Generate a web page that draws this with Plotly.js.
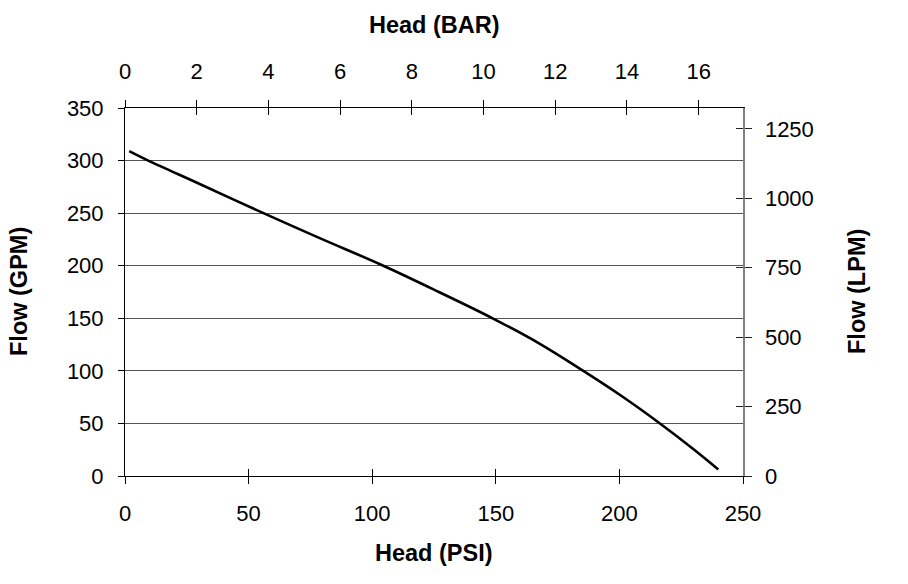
<!DOCTYPE html>
<html>
<head>
<meta charset="utf-8">
<script src="https://cdn.plot.ly/plotly-3.0.1.min.js"></script>
<style>html,body{margin:0;padding:0;background:#fff;}#chart{width:908px;height:584px;}</style>
</head>
<body>
<div id="chart"></div>
<script>
// Data
var headPsi = [1.7, 9.4, 30, 56, 79, 104.5, 127, 148.7, 168, 185.4, 200, 216.4, 230, 240];
var flowGpm = [309, 300, 278, 250, 226, 200, 175, 150, 125.5, 100, 77.5, 50, 25.5, 6.3];

var psiRange = [0, 250];
var gpmRange = [0, 350];
var PSI_PER_BAR = 14.5038;
var LPM_PER_GPM = 3.78541;
var barRange = [0, psiRange[1] / PSI_PER_BAR];
var lpmRange = [0, gpmRange[1] * LPM_PER_GPM];

var titleBottom = "Head (PSI)";
var titleTop = "Head (BAR)";
var titleLeft = "Flow (GPM)";
var titleRight = "Flow (LPM)";

var FONT = "Liberation Sans, Arial, sans-serif";
var tickFont = {family: FONT, size: 22, color: "#000"};
var titleFont = {family: FONT, size: 23.5, color: "#000", weight: "bold"};

var traces = [
  {x: headPsi, y: flowGpm, type: "scatter", mode: "lines", xaxis: "x", yaxis: "y",
   line: {color: "#000", width: 2.6, shape: "spline", smoothing: 1}, hoverinfo: "skip", showlegend: false},
  {x: [], y: [], type: "scatter", mode: "lines", xaxis: "x2", yaxis: "y", showlegend: false, hoverinfo: "skip"},
  {x: [], y: [], type: "scatter", mode: "lines", xaxis: "x3", yaxis: "y", showlegend: false, hoverinfo: "skip"},
  {x: [], y: [], type: "scatter", mode: "lines", xaxis: "x4", yaxis: "y", showlegend: false, hoverinfo: "skip"},
  {x: [], y: [], type: "scatter", mode: "lines", xaxis: "x", yaxis: "y2", showlegend: false, hoverinfo: "skip"},
  {x: [], y: [], type: "scatter", mode: "lines", xaxis: "x", yaxis: "y3", showlegend: false, hoverinfo: "skip"}
];

var layout = {
  width: 908, height: 584,
  margin: {l: 125, r: 165, t: 108, b: 108, pad: 0},
  paper_bgcolor: "#fff", plot_bgcolor: "#fff",
  showlegend: false,
  xaxis: {range: psiRange, dtick: 50, tick0: 0, side: "bottom", anchor: "y",
    showline: true, linecolor: "#000", linewidth: 1, showgrid: false, zeroline: false,
    ticks: "outside", ticklen: 7, tickcolor: "#000", tickwidth: 1,
    tickfont: tickFont, ticklabelstandoff: 11, fixedrange: true},
  xaxis3: {range: psiRange, dtick: 50, tick0: 0, overlaying: "x", side: "bottom", anchor: "y",
    showline: false, showgrid: false, zeroline: false, showticklabels: false,
    ticks: "inside", ticklen: 7, tickcolor: "#000", tickwidth: 1, fixedrange: true},
  xaxis2: {range: barRange, dtick: 2, tick0: 0, overlaying: "x", side: "top", anchor: "y",
    showline: true, linecolor: "#000", linewidth: 1, showgrid: false, zeroline: false,
    ticks: "outside", ticklen: 7, tickcolor: "#000", tickwidth: 1,
    tickfont: tickFont, ticklabelstandoff: 12, fixedrange: true},
  xaxis4: {range: barRange, dtick: 2, tick0: 0, overlaying: "x", side: "top", anchor: "y",
    showline: false, showgrid: false, zeroline: false, showticklabels: false,
    ticks: "inside", ticklen: 7, tickcolor: "#000", tickwidth: 1, fixedrange: true},
  yaxis: {range: gpmRange, dtick: 50, tick0: 0, side: "left", anchor: "x",
    showline: true, linecolor: "#000", linewidth: 1, showgrid: true, gridcolor: "#555", gridwidth: 1,
    zeroline: false, ticks: "outside", ticklen: 6, tickcolor: "#000", tickwidth: 1,
    tickfont: tickFont, ticklabelstandoff: 10, fixedrange: true},
  yaxis2: {range: lpmRange, dtick: 250, tick0: 0, overlaying: "y", side: "right", anchor: "x",
    showline: true, linecolor: "#808080", linewidth: 1.5, showgrid: false, zeroline: false,
    ticks: "outside", ticklen: 7, tickcolor: "#222", tickwidth: 1,
    tickfont: tickFont, ticklabelstandoff: 9, fixedrange: true},
  yaxis3: {range: lpmRange, dtick: 250, tick0: 0, overlaying: "y", side: "right", anchor: "x",
    showline: false, showgrid: false, zeroline: false, showticklabels: false,
    ticks: "inside", ticklen: 7, tickcolor: "#222", tickwidth: 1, fixedrange: true},
  annotations: [
    {text: titleBottom, xref: "paper", yref: "paper", x: 0.5, y: 0, yshift: -77, xanchor: "center", yanchor: "middle", showarrow: false, font: titleFont},
    {text: titleTop, xref: "paper", yref: "paper", x: 0.5, y: 1, yshift: 83, xanchor: "center", yanchor: "middle", showarrow: false, font: titleFont},
    {text: titleLeft, xref: "paper", yref: "paper", x: 0, y: 0.5, xshift: -106, xanchor: "center", yanchor: "middle", textangle: -90, showarrow: false, font: titleFont},
    {text: titleRight, xref: "paper", yref: "paper", x: 1, y: 0.5, xshift: 114, xanchor: "center", yanchor: "middle", textangle: -90, showarrow: false, font: titleFont}
  ]
};

Plotly.newPlot("chart", traces, layout, {displayModeBar: false, staticPlot: true});
</script>
</body>
</html>
